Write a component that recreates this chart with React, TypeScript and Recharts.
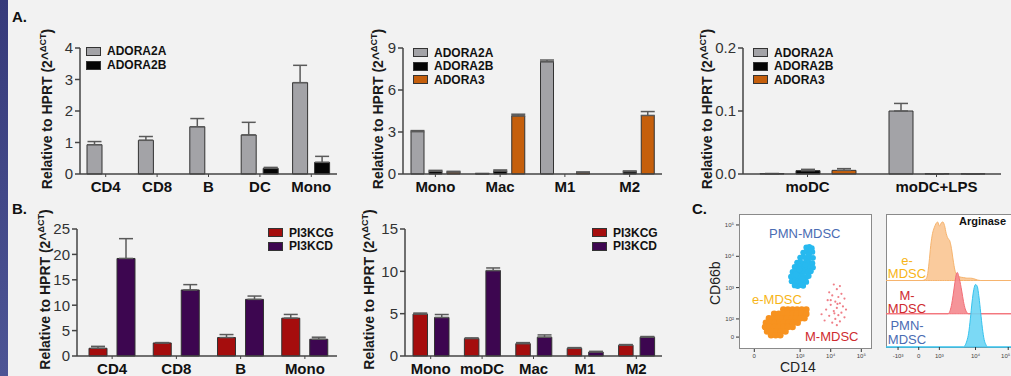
import React from "react";
import {
  Area,
  AreaChart,
  Bar,
  BarChart,
  ErrorBar,
  Legend,
  Scatter,
  ScatterChart,
  XAxis,
  YAxis,
} from "recharts";

// ---- panel A ----
const cellsA1 = ["CD4", "CD8", "B", "DC", "Mono"];
const a2aA1 = [0.93, 1.07, 1.5, 1.24, 2.9];
const a2aErrA1 = [0.1, 0.12, 0.26, 0.4, 0.55];
const a2bA1 = [0, 0, 0, 0.18, 0.37];
const a2bErrA1 = [0, 0, 0, 0.03, 0.19];

const cellsA2 = ["Mono", "Mac", "M1", "M2"];
const a2aA2 = [3.03, 0.03, 8.02, 0];
const a2aErrA2 = [0.07, 0, 0.12, 0];
const a2bA2 = [0.19, 0.21, 0, 0.17];
const a2bErrA2 = [0.07, 0.08, 0, 0.05];
const a3A2 = [0.14, 4.15, 0.12, 4.18];
const a3ErrA2 = [0.05, 0.12, 0.02, 0.28];

const cellsA3 = ["moDC", "moDC+LPS"];
const a2aA3 = [0.0006, 0.1];
const a2aErrA3 = [0, 0.012];
const a2bA3 = [0.0053, 0.0004];
const a2bErrA3 = [0.0021, 0];
const a3A3 = [0.0058, 0.0003];
const a3ErrA3 = [0.0027, 0];

// ---- panel B ----
const cellsB1 = ["CD4", "CD8", "B", "Mono"];
const kcgB1 = [1.52, 2.57, 3.63, 7.45];
const kcgErrB1 = [0.38, 0.07, 0.59, 0.73];
const kcdB1 = [19.2, 13.0, 11.15, 3.3];
const kcdErrB1 = [3.9, 1.05, 0.65, 0.4];

const cellsB2 = ["Mono", "moDC", "Mac", "M1", "M2"];
const kcgB2 = [4.95, 2.06, 1.46, 0.91, 1.27];
const kcgErrB2 = [0.12, 0.08, 0.12, 0.08, 0.08];
const kcdB2 = [4.55, 10.09, 2.22, 0.47, 2.22];
const kcdErrB2 = [0.35, 0.31, 0.27, 0.08, 0.08];

// ---- panel C: flow (display units: decades, biexponential near 0) ----
const pmnDots: [number, number][] = [
  [3.2, 4.28], [3.3, 4.3], [3.38, 4.26],
  [3.1, 4.12], [3.2, 4.15], [3.3, 4.1], [3.4, 4.14],
  [3.0, 3.96], [3.1, 3.98], [3.2, 3.94], [3.3, 3.97], [3.42, 3.95],
  [2.9, 3.8], [3.0, 3.82], [3.1, 3.78], [3.2, 3.81], [3.3, 3.8], [3.4, 3.78],
  [2.82, 3.66], [2.92, 3.64], [3.02, 3.67], [3.12, 3.65], [3.22, 3.63], [3.32, 3.66], [3.42, 3.64],
  [2.75, 3.5], [2.85, 3.52], [2.95, 3.48], [3.05, 3.51], [3.15, 3.5], [3.25, 3.49], [3.35, 3.52],
  [2.7, 3.35], [2.8, 3.37], [2.9, 3.34], [3.0, 3.36], [3.1, 3.35], [3.2, 3.33], [3.28, 3.37],
  [2.72, 3.2], [2.82, 3.22], [2.92, 3.19], [3.02, 3.21], [3.12, 3.2], [3.2, 3.18],
  [2.82, 3.07], [2.92, 3.05], [3.02, 3.08], [3.1, 3.06],
  [2.87, 3.43], [3.07, 3.28], [3.17, 3.72], [2.97, 3.58], [3.27, 4.03], [3.35, 4.2],
];
const eDots: [number, number][] = [
  [2.45, 2.3], [2.6, 2.3], [2.75, 2.3], [2.9, 2.3], [3.05, 2.3], [3.2, 2.3],
  [2.15, 2.16], [2.3, 2.16], [2.45, 2.16], [2.6, 2.16], [2.75, 2.16], [2.9, 2.16], [3.05, 2.16], [3.2, 2.16],
  [1.98, 2.02], [2.12, 2.02], [2.27, 2.02], [2.42, 2.02], [2.57, 2.02], [2.72, 2.02], [2.87, 2.02], [3.02, 2.02], [3.14, 2.02],
  [1.88, 1.88], [2.02, 1.88], [2.17, 1.88], [2.32, 1.88], [2.47, 1.88], [2.62, 1.88], [2.77, 1.88], [2.92, 1.88],
  [1.85, 1.74], [2.0, 1.74], [2.15, 1.74], [2.3, 1.74], [2.45, 1.74], [2.6, 1.74], [2.75, 1.74],
  [1.92, 1.6], [2.07, 1.6], [2.22, 1.6], [2.37, 1.6], [2.52, 1.6],
  [2.05, 1.48], [2.2, 1.48], [2.35, 1.48],
];
const mDots: [number, number][] = [
  [4.1, 3.1], [4.3, 3.05], [4.2, 2.95], [3.95, 2.85], [4.35, 2.8], [4.05, 2.75],
  [4.25, 2.7], [4.45, 2.65], [3.9, 2.6], [4.15, 2.55], [4.3, 2.5], [4.0, 2.45],
  [4.4, 2.4], [4.2, 2.35], [3.85, 2.3], [4.1, 2.25], [4.35, 2.2], [4.25, 2.12],
  [3.95, 2.1], [4.45, 2.05], [4.15, 2.0], [3.8, 1.95], [4.3, 1.92], [4.05, 1.88],
  [4.2, 1.8], [3.7, 2.15], [4.5, 2.3], [4.0, 2.6], [4.22, 2.48], [4.12, 2.18],
];

// arginase histograms: [position, % of mode]
const eHist: [number, number][] = [
  [-0.35, 0], [0.7, 0], [0.8, 2], [0.85, 8], [0.9, 30], [0.95, 60], [1.0, 80], [1.05, 90],
  [1.1, 97], [1.15, 100], [1.2, 93], [1.25, 98], [1.3, 100], [1.35, 94], [1.4, 80],
  [1.45, 72], [1.5, 68], [1.55, 55], [1.6, 35], [1.65, 18], [1.7, 10], [1.8, 6],
  [1.9, 5], [2.0, 4], [2.1, 4], [2.2, 3], [2.3, 1], [2.4, 0], [3.6, 0],
];
const mHist: [number, number][] = [
  [-0.35, 0], [1.45, 0], [1.5, 5], [1.55, 20], [1.6, 45], [1.65, 75], [1.7, 98],
  [1.72, 100], [1.78, 85], [1.85, 55], [1.9, 30], [1.95, 12], [2.0, 3], [2.05, 0], [3.6, 0],
];
const pmnHist: [number, number][] = [
  [-0.35, 0], [1.9, 0], [1.95, 3], [2.0, 10], [2.05, 22], [2.1, 45], [2.15, 72], [2.2, 92],
  [2.25, 100], [2.3, 97], [2.35, 80], [2.4, 55], [2.45, 30], [2.5, 12], [2.55, 4], [2.6, 0], [3.6, 0],
];

const GRAY = "#a3a3a7";
const BLACK = "#050505";
const ORANGE = "#c55f0c";
const RED = "#a50d0d";
const PURPLE = "#3d0650";

type Series = { key: string; name: string; fill: string; values: number[]; errors: number[] };

const TOPPAD = 32;

const yTitle = (bx: number, dyc: number) => (props: any) => {
  const vb = props.viewBox || { y: 0, height: 0 };
  const cy = vb.y + vb.height / 2 + dyc;
  return (
    <text
      x={bx}
      y={cy}
      transform={`rotate(-90 ${bx} ${cy})`}
      textAnchor="middle"
      fontSize={14}
      fontWeight="bold"
      fill="#1a1a1a"
    >
      Relative to HPRT (2^
      <tspan fontSize={9} dy={-6}>ΔCT</tspan>
      <tspan dy={6}>)</tspan>
    </text>
  );
};

function BarPanel(p: {
  cats: string[];
  series: Series[];
  x0: number;
  x1: number;
  y0: number;
  y1: number;
  domain: [number, number];
  ticks: number[];
  fmt?: (v: number) => string;
  barSize: number;
  barGap: number;
  padLeft?: number;
  titleX: number;
  titleDy: number;
  legendX: number;
  legendY: number;
  legendRow: number;
}) {
  const left = p.x0 - 72;
  const top = p.y0 - TOPPAD;
  const width = p.x1 - left + 4;
  const height = p.y1 - p.y0 + TOPPAD + 30;
  const data = p.cats.map((c, i) => {
    const row: any = { cat: c };
    p.series.forEach((s) => {
      row[s.key] = s.values[i];
      row[s.key + "Err"] = [0, s.errors[i]];
    });
    return row;
  });
  const axisStroke = { stroke: "#444", strokeWidth: 1.5 };
  return (
    <div style={{ position: "absolute", left, top, width, height }}>
      <BarChart
        width={width}
        height={height}
        data={data}
        margin={{ top: TOPPAD, right: 4, left: 0, bottom: 0 }}
        barSize={p.barSize}
        barGap={p.barGap}
      >
        <XAxis
          dataKey="cat"
          height={30}
          interval={0}
          axisLine={axisStroke}
          tickLine={{ stroke: "#444" }}
          tickSize={3}
          tickMargin={4}
          padding={{ left: p.padLeft || 0, right: 0 }}
          tick={{ fill: "#111", fontSize: 15, fontWeight: "bold" }}
        />
        <YAxis
          width={72}
          domain={p.domain}
          ticks={p.ticks}
          interval={0}
          tickFormatter={p.fmt}
          axisLine={axisStroke}
          tickLine={{ stroke: "#444", strokeWidth: 1.5 }}
          tickSize={5}
          tickMargin={2}
          tick={{ fill: "#333", fontSize: 15 }}
          label={yTitle(p.titleX - left, p.titleDy)}
        />
        {p.series.map((s) => (
          <Bar key={s.key} dataKey={s.key} name={s.name} fill={s.fill} stroke="#333" strokeWidth={1} isAnimationActive={false}>
            <ErrorBar dataKey={s.key + "Err"} width={7} stroke="#5a5a5a" strokeWidth={1.5} direction="y" isAnimationActive={false} />
          </Bar>
        ))}
        <Legend
          layout="vertical"
          align="center"
          verticalAlign="middle"
          wrapperStyle={{ left: p.legendX - left, top: p.legendY - top, width: 120, height: 50 }}
          content={() => (
            <div>
              {p.series.map((s) => (
                <div key={s.key} style={{ display: "flex", alignItems: "center", height: p.legendRow }}>
                  <div style={{ width: 13, height: 7, background: s.fill, border: "1px solid #333", marginRight: 6 }} />
                  <span style={{ fontSize: 12, fontWeight: "bold", color: "#111", lineHeight: "12px" }}>{s.name}</span>
                </div>
              ))}
            </div>
          )}
        />
      </BarChart>
    </div>
  );
}

const toPts = (a: [number, number][]) => a.map(([u, v]) => ({ u, v }));
const toLane = (a: [number, number][], base: number, scale: number) =>
  a.map(([u, c]) => ({ u, r: [base, base + c * scale] }));

const dot = (r: number, fill: string) => (props: any) => (
  <circle cx={props.cx} cy={props.cy} r={r} fill={fill} />
);

const supLabel = (v: number) =>
  ({ 1.42: "0", 1.5: "0", 2: "10²", 3: "10³", 4: "10⁴", 5: "10⁵" } as any)[v] ?? "";
const histLabel = (v: number) =>
  ({ 0: "-10³", 0.6: "0", 1.2: "10³", 2.25: "10⁴", 3.2: "10⁵" } as any)[v] ?? "";

// last histogram tick sits at the page edge: anchor it to the right
const HistTick = (props: any) => {
  const { x, y, payload } = props;
  const last = payload.value === 3.2;
  return (
    <text x={last ? x + 2 : x} y={y + 6} textAnchor={last ? "end" : "middle"} fontSize={6} fill="#444">
      {histLabel(payload.value)}
    </text>
  );
};

const txt = (x: number, y: number, s: React.CSSProperties): React.CSSProperties => ({
  position: "absolute",
  left: x,
  top: y,
  whiteSpace: "nowrap",
  ...s,
});

export default function App() {
  const smallTick = { fill: "#444", fontSize: 6 };
  return (
    <div
      style={{
        position: "fixed",
        left: 0,
        top: 0,
        width: 1011,
        height: 376,
        overflow: "hidden",
        background: "#f2f2f2",
        fontFamily: "'Liberation Sans', Arial, sans-serif",
      }}
    >
      <div style={{ position: "absolute", left: 0, top: 0, width: 8, height: 376, background: "linear-gradient(#363a7a, #4d5595)" }} />
      <div style={txt(12, 8, { fontSize: 15, fontWeight: "bold", color: "#111" })}>A.</div>
      <div style={txt(12, 200, { fontSize: 15, fontWeight: "bold", color: "#111" })}>B.</div>
      <div style={txt(692, 200, { fontSize: 15, fontWeight: "bold", color: "#111" })}>C.</div>

      <BarPanel
        cats={cellsA1}
        series={[
          { key: "a2a", name: "ADORA2A", fill: GRAY, values: a2aA1, errors: a2aErrA1 },
          { key: "a2b", name: "ADORA2B", fill: BLACK, values: a2bA1, errors: a2bErrA1 },
        ]}
        x0={80} x1={337} y0={48} y1={174}
        domain={[0, 4]} ticks={[0, 1, 2, 3, 4]}
        barSize={15} barGap={7}
        titleX={52} titleDy={-2}
        legendX={86} legendY={44} legendRow={14}
      />
      <BarPanel
        cats={cellsA2}
        series={[
          { key: "a2a", name: "ADORA2A", fill: GRAY, values: a2aA2, errors: a2aErrA2 },
          { key: "a2b", name: "ADORA2B", fill: BLACK, values: a2bA2, errors: a2bErrA2 },
          { key: "a3", name: "ADORA3", fill: ORANGE, values: a3A2, errors: a3ErrA2 },
        ]}
        x0={403} x1={662} y0={48} y1={174}
        domain={[0, 9]} ticks={[0, 3, 6, 9]}
        barSize={13} barGap={5}
        titleX={383} titleDy={-2}
        legendX={413} legendY={46} legendRow={13.5}
      />
      <BarPanel
        cats={cellsA3}
        series={[
          { key: "a2a", name: "ADORA2A", fill: GRAY, values: a2aA3, errors: a2aErrA3 },
          { key: "a2b", name: "ADORA2B", fill: BLACK, values: a2bA3, errors: a2bErrA3 },
          { key: "a3", name: "ADORA3", fill: ORANGE, values: a3A3, errors: a3ErrA3 },
        ]}
        x0={743} x1={1001} y0={48} y1={174}
        domain={[0, 0.2]} ticks={[0, 0.1, 0.2]} fmt={(v) => v.toFixed(1)}
        barSize={24} barGap={12}
        titleX={712} titleDy={-2}
        legendX={753} legendY={46} legendRow={13.5}
      />
      <BarPanel
        cats={cellsB1}
        series={[
          { key: "g", name: "PI3KCG", fill: RED, values: kcgB1, errors: kcgErrB1 },
          { key: "d", name: "PI3KCD", fill: PURPLE, values: kcdB1, errors: kcdErrB1 },
        ]}
        x0={77} x1={337} y0={229} y1={356}
        domain={[0, 25]} ticks={[0, 5, 10, 15, 20, 25]}
        barSize={18} barGap={10} padLeft={3}
        titleX={50} titleDy={-3}
        legendX={268} legendY={226} legendRow={13.5}
      />
      <BarPanel
        cats={cellsB2}
        series={[
          { key: "g", name: "PI3KCG", fill: RED, values: kcgB2, errors: kcgErrB2 },
          { key: "d", name: "PI3KCD", fill: PURPLE, values: kcdB2, errors: kcdErrB2 },
        ]}
        x0={405} x1={662} y0={229} y1={356}
        domain={[0, 15]} ticks={[0, 5, 10, 15]}
        barSize={14.5} barGap={7}
        titleX={374} titleDy={-3}
        legendX={592} legendY={226} legendRow={13.5}
      />

      {/* C: dot plot */}
      <div style={{ position: "absolute", left: 739, top: 214, width: 133, height: 135, background: "#fff", border: "1px solid #8a8a8a", boxSizing: "border-box" }} />
      <div style={{ position: "absolute", left: 710, top: 210, width: 170, height: 165 }}>
        <ScatterChart width={170} height={165} margin={{ top: 4, right: 8, left: 0, bottom: 0 }}>
          <XAxis
            type="number" dataKey="u" domain={[1, 5.35]} ticks={[1.5, 3, 4, 5]} interval={0}
            tickFormatter={supLabel} height={26} axisLine={false}
            tickLine={{ stroke: "#333" }} tickSize={3} tick={smallTick}
          />
          <YAxis
            type="number" dataKey="v" domain={[1.04, 5.35]} ticks={[1.42, 2, 3, 4, 5]} interval={0}
            tickFormatter={supLabel} width={29} axisLine={false}
            tickLine={{ stroke: "#333" }} tickSize={3} tick={smallTick}
          />
          <Scatter data={toPts(eDots)} shape={dot(3.3, "#f7921f")} isAnimationActive={false} />
          <Scatter data={toPts(pmnDots)} shape={dot(2.9, "#27b9ef")} isAnimationActive={false} />
          <Scatter data={toPts(mDots)} shape={dot(1.1, "#ef7f88")} isAnimationActive={false} />
        </ScatterChart>
      </div>
      <div style={txt(769, 226, { fontSize: 13, color: "#4a6cb3" })}>PMN-MDSC</div>
      <div style={txt(752, 292, { fontSize: 13, color: "#f7b518" })}>e-MDSC</div>
      <div style={txt(805, 329, { fontSize: 13, color: "#cf2b2f" })}>M-MDSC</div>
      <div style={txt(780, 359, { fontSize: 14, color: "#222" })}>CD14</div>
      <div style={{ position: "absolute", left: 697, top: 279, fontSize: 14, color: "#222", transform: "rotate(-90deg)", transformOrigin: "18px 8px", whiteSpace: "nowrap" }}>CD66b</div>

      {/* C: arginase histogram */}
      <div style={{ position: "absolute", left: 886, top: 214, width: 140, height: 134, background: "#fff", border: "1px solid #8a8a8a", boxSizing: "border-box" }} />
      <div style={{ position: "absolute", left: 886, top: 214, width: 136, height: 153 }}>
        <AreaChart width={136} height={153} margin={{ top: 0, right: 0, left: 0, bottom: 0 }}>
          <XAxis
            type="number" dataKey="u" domain={[-0.35, 3.6]} ticks={[0, 0.6, 1.2, 2.25, 3.2]} interval={0}
            height={20} axisLine={false} allowDuplicatedCategory={false}
            tickLine={{ stroke: "#333" }} tickSize={3} tick={<HistTick />}
          />
          <YAxis type="number" domain={[0, 100]} hide />
          <Area data={toLane(eHist, 50, 0.44)} dataKey="r" type="monotone" stroke="#f6b46e" strokeWidth={1} fill="#f9c592" fillOpacity={0.9} isAnimationActive={false} />
          <Area data={toLane(mHist, 25, 0.31)} dataKey="r" type="monotone" stroke="#f26e76" strokeWidth={1} fill="#f4888e" fillOpacity={0.9} isAnimationActive={false} />
          <Area data={toLane(pmnHist, 0, 0.47)} dataKey="r" type="monotone" stroke="#35c3ee" strokeWidth={1} fill="#6dd5f4" fillOpacity={0.9} isAnimationActive={false} />
        </AreaChart>
      </div>
      <div style={txt(959, 215, { fontSize: 11, fontWeight: "bold", color: "#111" })}>Arginase</div>
      <div style={{ position: "absolute", left: 887, top: 254, width: 40, textAlign: "center", fontSize: 13, lineHeight: "13px", color: "#f7b518" }}>e-<br />MDSC</div>
      <div style={{ position: "absolute", left: 887, top: 289, width: 40, textAlign: "center", fontSize: 13, lineHeight: "13px", color: "#cf2b2f" }}>M-<br />MDSC</div>
      <div style={{ position: "absolute", left: 887, top: 319, width: 40, textAlign: "center", fontSize: 13, lineHeight: "14px", color: "#4a6cb3" }}>PMN-<br />MDSC</div>
    </div>
  );
}
